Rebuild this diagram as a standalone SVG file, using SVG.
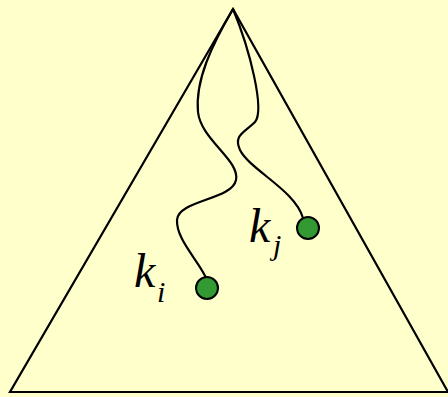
<svg xmlns="http://www.w3.org/2000/svg" width="448" height="397" viewBox="0 0 448 397">
<style>
.ln{fill:none;stroke:#000;stroke-width:2.2}
.nd{fill:#339933;stroke:#000;stroke-width:2}
.lb{font-family:"Liberation Serif",serif;font-style:italic;fill:#000}
.k{font-size:48px}
.s{font-size:30px}
</style>
<rect width="448" height="397" fill="#FFFFCC"/>
<g id="tree"><path class="ln" d="M233,9 L10,392 L448,392 Z"/></g>
<g id="connectors">
<path class="ln" d="M233,9 C212,45 195,80 198,112 C201,140 240,160 236,180 C232,200 178,200 177,220 C176,240 200,262 207,280"/>
<path class="ln" d="M233,9 C250,50 265,110 255,122 C245,132 233,135 240,150 C250,170 295,190 303,218"/>
</g>
<g id="ki"><circle class="nd" cx="207" cy="288" r="11"/><text class="lb k" x="134" y="287">k</text><text class="lb s" x="157" y="302">i</text></g>
<g id="kj"><circle class="nd" cx="308" cy="228" r="11"/><text class="lb k" x="249" y="242">k</text><text class="lb s" x="273" y="255">j</text></g>
</svg>
